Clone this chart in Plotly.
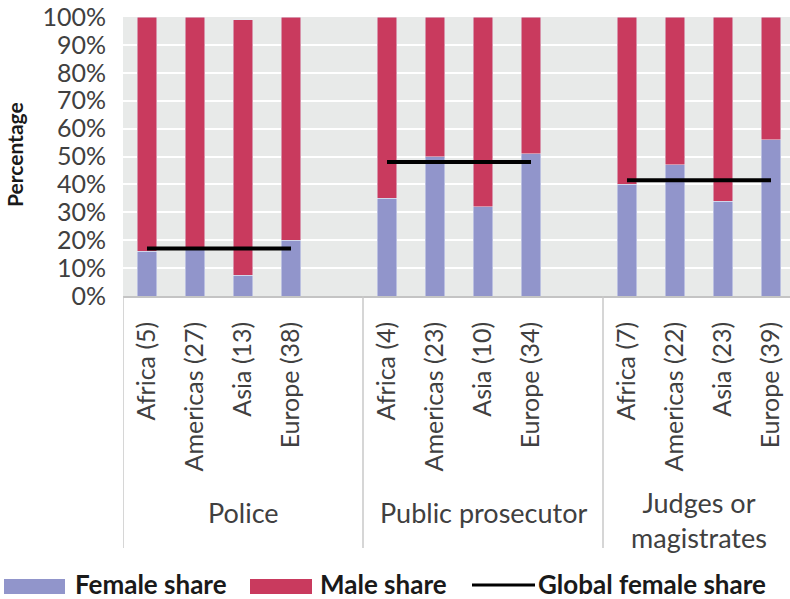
import plotly.graph_objects as go

groups = ["Police", "Public prosecutor", "Judges or<br>magistrates"]
regions = ["Africa", "Americas", "Asia", "Europe"]
counts = [[5, 27, 13, 38], [4, 23, 10, 34], [7, 22, 23, 39]]
female_share = [[16, 16.5, 7.5, 20], [35, 50, 32, 51], [40, 47, 34, 56]]
male_share = [[84, 83.5, 91.5, 80], [65, 50, 68, 49], [60, 53, 66, 44]]
global_female = [17, 48, 41.5]

FEMALE_C = "#9195CB"
MALE_C = "#C93A5E"
FONT = "Lato"

W, H = 790, 599
L, R, T, B = 123, 0, 17, 303
PW, PH = W - L - R, H - T - B


def px(x):
    return (x - L) / PW


def py(y):
    return (H - B - y) / PH


xs, fem, mal, labels = [], [], [], []
for gi, g in enumerate(groups):
    for ri, r in enumerate(regions):
        xs.append(gi * 5 + ri)
        fem.append(female_share[gi][ri])
        mal.append(male_share[gi][ri])
        labels.append(f"{r} ({counts[gi][ri]})")

fig = go.Figure()
fig.add_trace(go.Bar(x=xs, y=fem, marker_color=FEMALE_C, width=0.4, name="Female share"))
fig.add_trace(go.Bar(x=xs, y=mal, marker_color=MALE_C, width=0.4, name="Male share"))
for gi, gv in enumerate(global_female):
    fig.add_trace(go.Scatter(x=[gi * 5, gi * 5 + 3], y=[gv, gv], mode="lines",
                             line=dict(color="black", width=4), name="Global female share",
                             showlegend=False))

fig.update_layout(
    width=W, height=H, barmode="stack", showlegend=False,
    margin=dict(l=L, r=R, t=T, b=B),
    paper_bgcolor="white", plot_bgcolor="#E8EAE9",
    font=dict(family=FONT, color="#404040"),
)
fig.update_xaxes(
    range=[-0.5, -0.5 + PW / 48], tickvals=xs, ticktext=labels, tickangle=-90,
    tickfont=dict(size=25, color="#404040"), showgrid=False, zeroline=False,
    showline=True, linecolor="#C4C4C4", linewidth=1.5, ticks="", ticklabelstandoff=14,
)
fig.update_yaxes(
    range=[0, 100], dtick=10, ticksuffix="%", tickfont=dict(size=25, color="#404040"),
    gridcolor="white", gridwidth=2, zeroline=False, showline=False, ticks="",
    ticklabelstandoff=16,
)

# group dividers
for xd in [-0.5, 4.5, 9.5]:
    fig.add_shape(type="line", xref="x", yref="paper", x0=xd, x1=xd, y0=0, y1=py(548),
                  line=dict(color="#C8C8C8", width=1.5))

# group labels
for gi, g in enumerate(groups):
    cx = gi * 5 + (2 if gi < 2 else 1.5)
    yc = 512 if gi < 2 else 520
    fig.add_annotation(x=cx, xref="x", y=py(yc), yref="paper", text=g, showarrow=False,
                       font=dict(size=27, color="#404040", family=FONT), yanchor="middle",
                       xanchor="center")

# y title
fig.add_annotation(x=px(14), y=py(155), xref="paper", yref="paper", text="<b>Percentage</b>",
                   textangle=-90, showarrow=False, xanchor="center", yanchor="middle",
                   font=dict(size=21, color="#1a1a1a", family=FONT))

# custom legend
fig.add_shape(type="rect", xref="paper", yref="paper", x0=px(4), x1=px(65), y0=py(594), y1=py(579),
              fillcolor=FEMALE_C, line=dict(width=0))
fig.add_shape(type="rect", xref="paper", yref="paper", x0=px(250), x1=px(312), y0=py(594), y1=py(579),
              fillcolor=MALE_C, line=dict(width=0))
fig.add_shape(type="line", xref="paper", yref="paper", x0=px(472), x1=px(535), y0=py(585), y1=py(585),
              line=dict(color="black", width=3))
for txt, x0 in [("Female share", 74), ("Male share", 319), ("Global female share", 537)]:
    fig.add_annotation(x=px(x0), y=py(584), xref="paper", yref="paper", text=f"<b>{txt}</b>",
                       showarrow=False, xanchor="left", yanchor="middle", borderpad=0,
                       font=dict(size=26, color="#1a1a1a", family=FONT))

fig.write_html("out.html", post_script="document.body.style.margin='0';",
               config={"displayModeBar": False})
